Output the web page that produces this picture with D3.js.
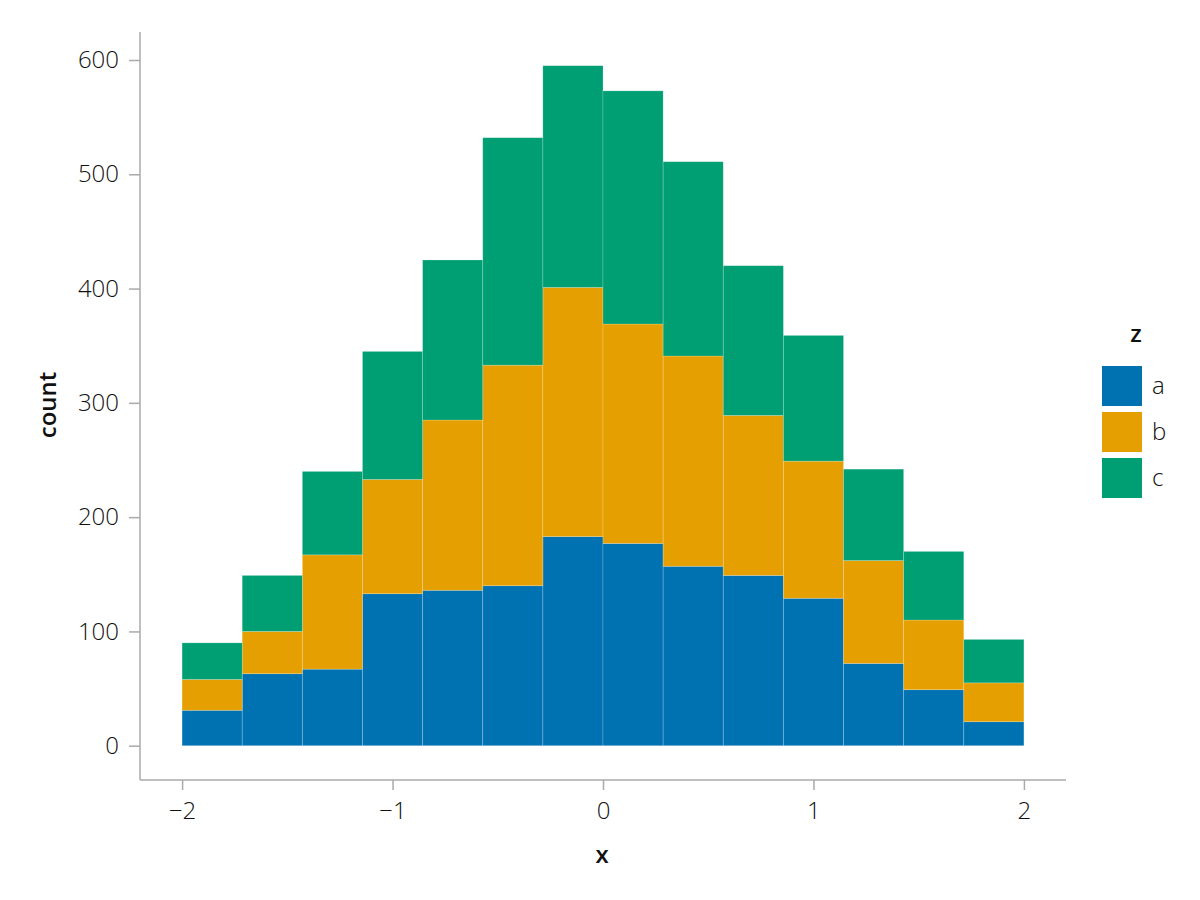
<!DOCTYPE html>
<html>
<head>
<meta charset="utf-8">
<script src="https://cdn.jsdelivr.net/npm/d3@7"></script>
<style>
  html, body { margin: 0; padding: 0; background: #fff; }
  svg text { font-family: "Open Sans", "Noto Sans", sans-serif; }
</style>
</head>
<body>
<svg id="chart" width="1200" height="900"></svg>
<script>
// ---- data ----
const binEdges = [-2, -1.7142857, -1.4285714, -1.1428571, -0.8571429, -0.5714286, -0.2857143, 0,
                  0.2857143, 0.5714286, 0.8571429, 1.1428571, 1.4285714, 1.7142857, 2];
const groups = ["a", "b", "c"];
const countsA = [31, 63, 67, 133, 136, 140, 183, 177, 157, 149, 129, 72, 49, 21];
const countsB = [27, 37, 100, 100, 149, 193, 218, 192, 184, 140, 120, 90, 61, 34];
const countsC = [32, 49, 73, 112, 140, 199, 194, 204, 170, 131, 110, 80, 60, 38];
const colors = ["#0072b2", "#e69f00", "#009e73"];
const xTicks = [-2, -1, 0, 1, 2];
const yTicks = [0, 100, 200, 300, 400, 500, 600];

// ---- build table ----
const rows = countsA.map((d, i) => ({
  x0: binEdges[i], x1: binEdges[i + 1], a: countsA[i], b: countsB[i], c: countsC[i]
}));
const stacked = d3.stack().keys(groups)(rows);

const svg = d3.select("#chart");
const mLeft = 140, mRight = 1066, mTop = 32, mBottom = 780;
const x = d3.scaleLinear().domain([-2.2, 2.2]).range([mLeft, mRight]);
const y = d3.scaleLinear().domain([-30, 624.5]).range([mBottom, mTop]);
const color = d3.scaleOrdinal().domain(groups).range(colors);

// bars
svg.append("g").selectAll("g").data(stacked).join("g")
  .attr("fill", d => color(d.key))
  .selectAll("rect").data(d => d).join("rect")
  .attr("x", d => x(d.data.x0))
  .attr("width", d => x(d.data.x1) - x(d.data.x0))
  .attr("y", d => y(d[1]))
  .attr("height", d => y(d[0]) - y(d[1]))
  .attr("stroke", "rgba(255,255,255,0.25)")
  .attr("stroke-width", 0.8);

// axes
const fmt = d => (d < 0 ? "\u2212" + Math.abs(d) : String(d));
const gx = svg.append("g").attr("transform", `translate(0,${mBottom})`)
  .call(d3.axisBottom(x).tickValues(xTicks).tickFormat(fmt).tickSize(10).tickPadding(12).tickSizeOuter(0));
const gy = svg.append("g").attr("transform", `translate(${mLeft},0)`)
  .call(d3.axisLeft(y).tickValues(yTicks).tickFormat(fmt).tickSize(11).tickPadding(10).tickSizeOuter(0));
[gx, gy].forEach(g => {
  g.select(".domain").attr("stroke", "#aaaaaa").attr("stroke-width", 1.5);
  g.selectAll(".tick line").attr("stroke", "#aaaaaa").attr("stroke-width", 1.5);
  g.selectAll(".tick text").attr("font-size", 24).attr("font-weight", 300)
    .attr("fill", "#111").attr("font-family", "'Open Sans', sans-serif");
});
gx.select(".domain").attr("d", `M${mLeft - mLeft},0H${mRight}`).attr("d", `M${mLeft},0H${mRight}`);
gy.select(".domain").attr("d", `M0,${mTop}V${mBottom}`);

// axis labels
svg.append("text").attr("x", 602).attr("y", 863).attr("text-anchor", "middle")
  .attr("font-size", 24).attr("font-weight", 600).attr("fill", "#111").text("x");
svg.append("text").attr("transform", "translate(56,405) rotate(-90)").attr("text-anchor", "middle")
  .attr("font-size", 24).attr("font-weight", 600).attr("fill", "#111").text("count");

// legend
const lg = svg.append("g");
lg.append("text").attr("x", 1136).attr("y", 342).attr("text-anchor", "middle")
  .attr("font-size", 24).attr("font-weight", 600).attr("fill", "#111").text("z");
groups.forEach((g, i) => {
  const yy = 366 + i * 46;
  lg.append("rect").attr("x", 1102).attr("y", yy).attr("width", 40).attr("height", 40)
    .attr("fill", color(g));
  lg.append("text").attr("x", 1152).attr("y", yy + 20).attr("dy", "0.35em")
    .attr("font-size", 24).attr("font-weight", 300).attr("fill", "#111").text(g);
});
</script>
</body>
</html>
